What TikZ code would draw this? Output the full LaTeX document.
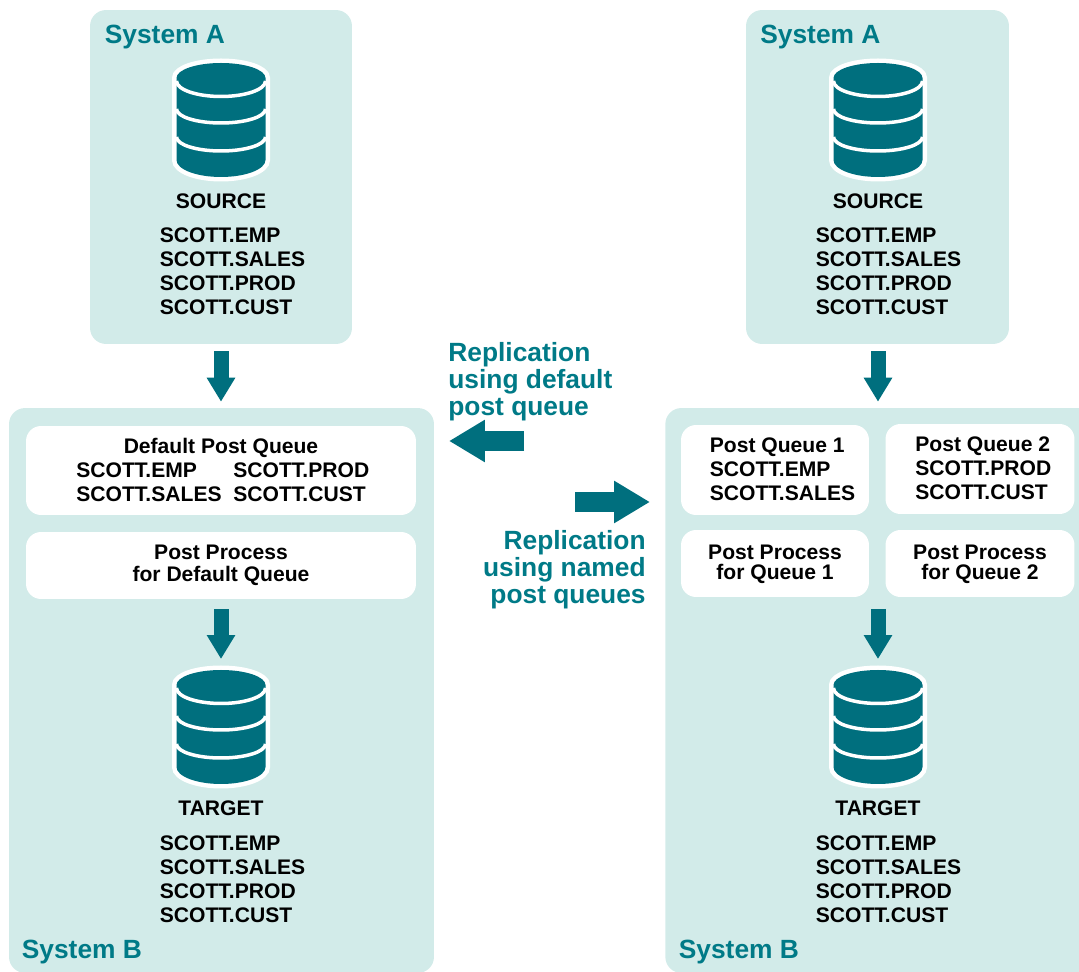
\documentclass[tikz,border=0pt]{standalone}
\usepackage{fontspec}
\setmainfont{Liberation Sans}
\usetikzlibrary{arrows.meta}
\definecolor{tealdark}{HTML}{006F7E}
\definecolor{tealtext}{HTML}{007A87}
\definecolor{tealpale}{HTML}{D2EBE9}
\tikzset{
    sysbox/.style={fill=tealpale,rounded corners=0.32cm,inner sep=0pt},
    quebox/.style={fill=white,rounded corners=0.3cm,inner sep=0pt},
    txt/.style={font=\bfseries\fontsize{12}{13.66}\selectfont,inner sep=0pt,align=left},
    ttl/.style={font=\bfseries\fontsize{15}{15.4}\selectfont,inner sep=0pt,text=tealtext},
    bigarrow/.style={draw=tealdark,line width=0.3cm,-{Triangle[length=0.48cm,width=0.54cm]}},
    sidearrow/.style={draw=tealdark,line width=0.4cm,-{Triangle[length=0.72cm,width=0.8cm]}},
    pics/dbicon/.style={code={
        \draw[white,line width=0.18cm,fill=white] (-44.5,-42) arc[start angle=180,end angle=360,x radius=44.5,y radius=15] -- (44.5,40) arc[start angle=0,end angle=180,x radius=44.5,y radius=17] -- cycle;
        \fill[tealdark] (-44.5,-42) arc[start angle=180,end angle=360,x radius=44.5,y radius=15] -- (44.5,40) arc[start angle=0,end angle=180,x radius=44.5,y radius=17] -- cycle;
        \foreach \s/\r in {-39/15.5,-11/14,17/14}{
            \draw[white,line width=0.07cm] (-44.5,\s) arc[start angle=180,end angle=0,x radius=44.5,y radius=\r];
        }
    }}
}
\begin{document}
\begin{tikzpicture}[x=0.02cm,y=-0.02cm]
    \clip (0,0) rectangle (1079,972);

    %Cajas de sistema
    \node[sysbox,minimum width=5.24cm,minimum height=6.68cm] (sysAl) at (221,177) {};
    \node[sysbox,minimum width=5.26cm,minimum height=6.68cm] (sysAr) at (877.5,177) {};
    \node[sysbox,minimum width=8.5cm,minimum height=11.3cm] (sysBl) at (221.5,690.5) {};
    \node[sysbox,minimum width=9.4cm,minimum height=11.3cm,anchor=west] (sysBr) at (665,690.5) {};

    %Cajas de colas
    \node[quebox,minimum width=7.8cm,minimum height=1.78cm] (queD) at (221,470.5) {};
    \node[quebox,minimum width=7.8cm,minimum height=1.34cm] (proD) at (221,565.5) {};
    \node[quebox,minimum width=3.76cm,minimum height=1.8cm] (queA) at (775,470) {};
    \node[quebox,minimum width=3.78cm,minimum height=1.8cm] (queB) at (980,469) {};
    \node[quebox,minimum width=3.76cm,minimum height=1.34cm] (proA) at (775,563.5) {};
    \node[quebox,minimum width=3.78cm,minimum height=1.34cm] (proB) at (980,563.5) {};

    %Bases de datos
    \foreach \x in {221,878}{
        \pic at (\x,120) {dbicon};
        \pic at (\x,727) {dbicon};
    }

    %Textos de los sistemas
    \foreach \xc/\xl/\xa/\xb/\n in {221/159.5/104.5/21.5/l,878/815.5/760/678.5/r}{
        \node[ttl,anchor=west] (titA\n) at (\xa,37) {System A};
        \node[ttl,anchor=west] (titB\n) at (\xb,952) {System B};
        \node[txt] (src\n) at (\xc,201) {SOURCE};
        \node[txt] (tgt\n) at (\xc,808) {TARGET};
        \node[txt,anchor=west] (srcT\n) at (\xl,271.5) {SCOTT.EMP\\SCOTT.SALES\\SCOTT.PROD\\SCOTT.CUST};
        \node[txt,anchor=west] (tgtT\n) at (\xl,879) {SCOTT.EMP\\SCOTT.SALES\\SCOTT.PROD\\SCOTT.CUST};
    }

    %Textos de las colas
    \node[txt] (queDt) at (221,447.5) {Default Post Queue};
    \node[txt,anchor=west] (queDa) at (76,482.5) {SCOTT.EMP\\SCOTT.SALES};
    \node[txt,anchor=west] (queDb) at (233,482.5) {SCOTT.PROD\\SCOTT.CUST};
    \node[txt,align=center] (proDt) at (221,565.5) {Post Process\\[-1.2pt]for Default Queue};
    \node[txt,anchor=west] (queAt) at (709.5,469) {Post Queue 1\\SCOTT.EMP\\SCOTT.SALES};
    \node[txt,anchor=west] (queBt) at (915,468.5) {Post Queue 2\\SCOTT.PROD\\SCOTT.CUST};
    \node[txt,align=center] (proAt) at (775,564.5) {Post Process\\[-2.2pt]for Queue 1};
    \node[txt,align=center] (proBt) at (980,564.5) {Post Process\\[-2.2pt]for Queue 2};

    %Textos centrales
    \node[ttl,align=left,anchor=west] (repL) at (448,382) {Replication\\using default\\post queue};
    \node[ttl,align=right,anchor=east] (repR) at (646,570) {Replication\\using named\\post queues};

    %Flechas
    \coordinate (tipDl) at (221,665);
    \coordinate (tipDr) at (878,665);
    \coordinate (midQ) at (878,597);
    \coordinate (outL) at (524,441);
    \coordinate (inL) at (449,441);
    \coordinate (outR) at (575,502);
    \coordinate (inR) at (650,502);
    \draw[bigarrow,shorten <=0.14cm,shorten >=0.12cm] (sysAl.south) -- (sysAl.south |- sysBl.north);
    \draw[bigarrow,shorten <=0.14cm,shorten >=0.12cm] (sysAr.south -| tipDr) -- (tipDr |- sysBr.north);
    \draw[bigarrow,shorten <=0.2cm,shorten >=0.12cm] (proD.south) -- (tipDl);
    \draw[bigarrow,shorten <=0.24cm,shorten >=0.12cm] (midQ) -- (tipDr);
    \draw[sidearrow] (outL) -- (inL);
    \draw[sidearrow] (outR) -- (inR);
\end{tikzpicture}
\end{document}
